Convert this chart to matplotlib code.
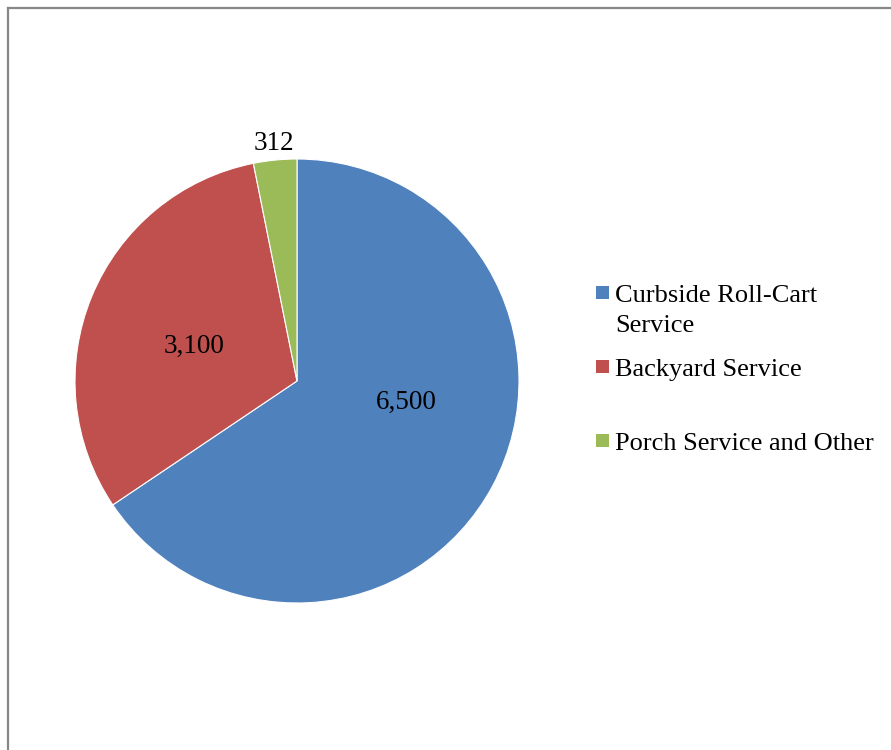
import matplotlib.pyplot as plt
import numpy as np
from matplotlib.patches import Rectangle
from matplotlib.lines import Line2D

plt.rcParams['font.family'] = ['Liberation Serif', 'DejaVu Serif']

# Dados
categorias = ["Curbside Roll-Cart\nService", "Backyard Service", "Porch Service and Other"]
valores = [6500, 3100, 312]
rotulos = ["6,500", "3,100", "312"]
cores = ["#4F81BD", "#C0504D", "#9BBB59"]

# posicao dos rotulos: (distancia relativa ao raio, desvio de angulo)
pos_rotulos = [(0.50, 17), (0.49, 4), (1.075, 0)]

fig = plt.figure(figsize=(8.91, 7.5), dpi=100)

# moldura (so topo e lado esquerdo aparecem)
fig.add_artist(Line2D([8 / 891, 8 / 891], [0, 1 - 8 / 750], transform=fig.transFigure,
                      color="#878787", lw=1.6))
fig.add_artist(Line2D([8 / 891, 1], [1 - 8 / 750, 1 - 8 / 750], transform=fig.transFigure,
                      color="#878787", lw=1.6))

ax = fig.add_axes([75 / 891, 147 / 750, 444 / 891, 444 / 750])
wedges, _ = ax.pie(valores, colors=cores, startangle=90, counterclock=False,
                   radius=1, wedgeprops=dict(edgecolor="white", linewidth=0.8))
ax.set_xlim(-1, 1)
ax.set_ylim(-1, 1)
ax.set_aspect("equal")
ax.axis("off")

for w, txt, (dist, desvio) in zip(wedges, rotulos, pos_rotulos):
    ang = np.deg2rad((w.theta1 + w.theta2) / 2 + desvio)
    ax.text(dist * np.cos(ang), dist * np.sin(ang), txt, ha="center", va="center",
            fontsize=19.5, clip_on=False)

# legenda manual (y = linha de base do texto, em pixels a partir do topo)
legenda_y = [302, 376, 450]
for cor, nome, y in zip(cores, categorias, legenda_y):
    fig.add_artist(Rectangle((596 / 891, 1 - (y - 3) / 750), 13 / 891, 13 / 750,
                             transform=fig.transFigure, facecolor=cor, edgecolor="none"))
    for i, linha in enumerate(nome.split("\n")):
        fig.text(615 / 891, 1 - (y + 30 * i) / 750, linha, ha="left", va="baseline",
                 fontsize=19)

fig.savefig("out.png", dpi=100)
